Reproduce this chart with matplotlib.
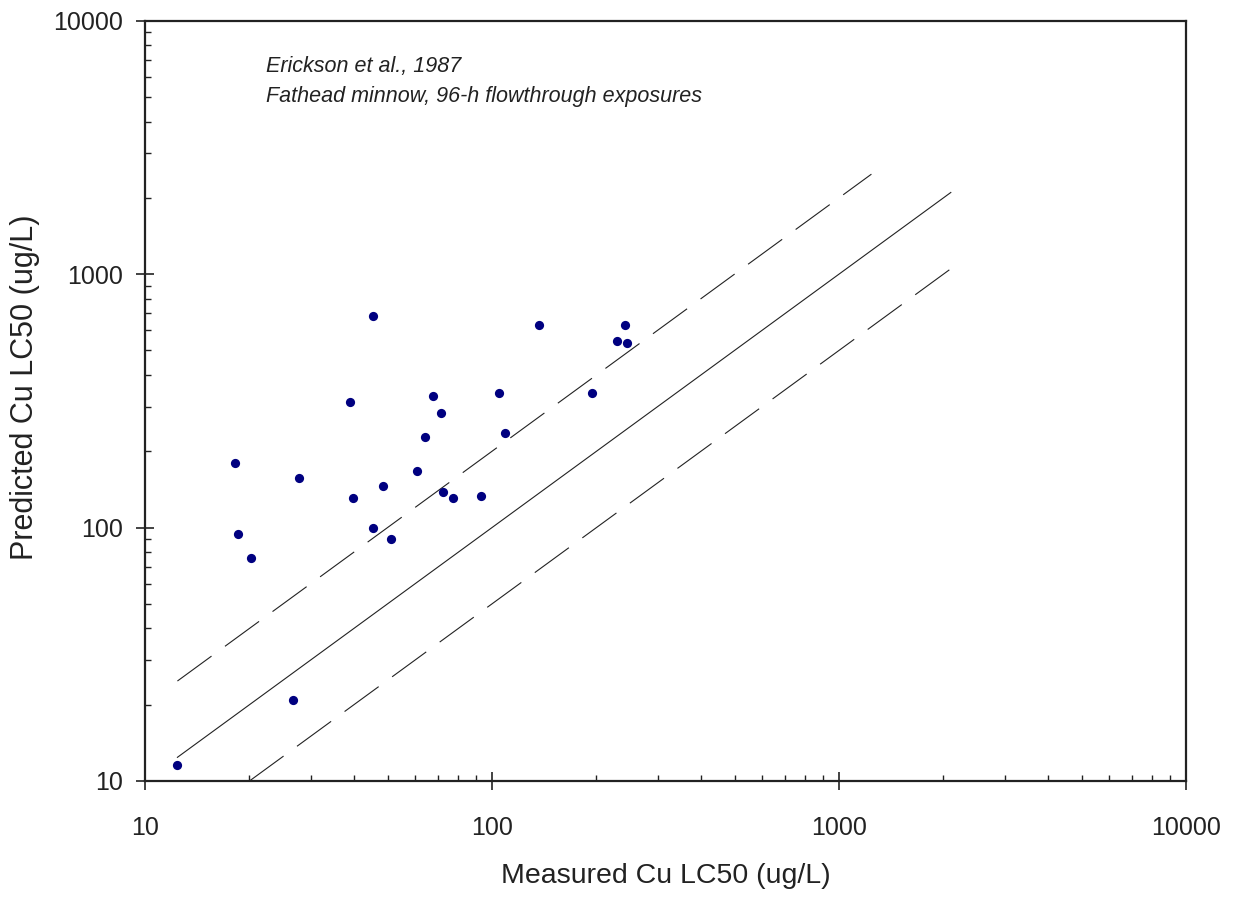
import matplotlib.pyplot as plt
from matplotlib.ticker import LogLocator, FixedLocator, NullFormatter

plt.rcParams['font.family'] = ['Liberation Sans', 'DejaVu Sans']

# measured vs predicted Cu LC50 (ug/L)
measured = [12.4, 26.7, 18.2, 18.5, 20.2, 27.8, 39.0, 39.7, 45.4, 45.4,
            48.5, 51.2, 60.8, 64.2, 67.6, 71.3, 72.2, 77.2, 93.0, 104.7,
            108.9, 136.5, 194.0, 229.0, 241.5, 245.0]
predicted = [11.6, 20.9, 179.0, 94.0, 76.0, 157.0, 313.0, 131.0, 683.0, 99.5,
             146.0, 90.0, 167.0, 228.0, 330.0, 283.0, 138.0, 131.0, 133.0, 340.0,
             236.0, 630.0, 340.0, 544.0, 630.0, 535.0]

# 1:1 line and factor-of-two bounds
line_x = [12.4, 2100]
upper_x = [12.4, 1240]
lower_x = [20, 2100]
factor = 2.0

major_ticks = [10, 100, 1000, 10000]
tick_labels = ["10", "100", "1000", "10000"]

fig = plt.figure(figsize=(12.38, 8.99), dpi=100)
ax = fig.add_axes([145 / 1238, 1 - 781 / 899, (1186 - 145) / 1238, (781 - 20.7) / 899])

ax.plot(line_x, line_x, color="#222222", lw=0.8)
ax.plot(upper_x, [v * factor for v in upper_x], color="#222222", lw=0.8,
        dashes=(38, 15))
ax.plot(lower_x, [v / factor for v in lower_x], color="#222222", lw=0.8,
        dashes=(38, 15))
ax.scatter(measured, predicted, s=44, color="#000080", zorder=3, linewidths=0)

ax.set_xscale("log")
ax.set_yscale("log")
ax.set_xlim(10, 10000)
ax.set_ylim(10, 10000)

for axis in (ax.xaxis, ax.yaxis):
    axis.set_major_locator(FixedLocator(major_ticks))
    axis.set_minor_locator(LogLocator(base=10, subs=range(2, 10)))
    axis.set_minor_formatter(NullFormatter())
ax.set_xticklabels(tick_labels)
ax.set_yticklabels(tick_labels)

ax.tick_params(which="major", direction="inout", length=13, width=1.2,
               color="#222222", labelsize=18, labelcolor="#222222")
ax.tick_params(axis="x", which="major", pad=19)
ax.tick_params(axis="y", which="major", pad=9)
ax.tick_params(which="minor", direction="in", length=4.5, width=1.0,
               color="#222222")
for sp in ax.spines.values():
    sp.set_linewidth(1.6)
    sp.set_color("#222222")

ax.set_xlabel("Measured Cu LC50 (ug/L)", fontsize=20.5, color="#222222",
              labelpad=16)
ax.set_ylabel("Predicted Cu LC50 (ug/L)", fontsize=22, color="#222222")
ax.yaxis.set_label_coords(-0.101, 0.518)

ax.text(0.116, 0.953, "Erickson et al., 1987\nFathead minnow, 96-h flowthrough exposures",
        transform=ax.transAxes, fontsize=15.5, style="italic", color="#222222",
        va="top", ha="left", linespacing=1.55)

fig.savefig("out.png", dpi=100)
